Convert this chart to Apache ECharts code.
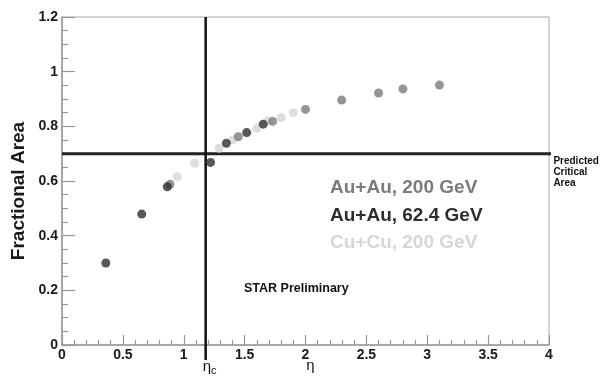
<!DOCTYPE html>
<html>
<head>
<meta charset="utf-8">
<script src="https://cdn.jsdelivr.net/npm/echarts@6/dist/echarts.min.js"></script>
<style>
  html, body { margin: 0; padding: 0; background: #fff; }
  #chart { width: 604px; height: 376px; }
</style>
</head>
<body>
<div id="chart"></div>
<script>
// data: [eta, fractional area]
var auAu200 = [[0.887, 0.588], [1.448, 0.762], [1.73, 0.818], [2.0, 0.862], [2.297, 0.896], [2.60, 0.922], [2.80, 0.937], [3.10, 0.951]];
var auAu62 = [[0.36, 0.30], [0.655, 0.479], [0.865, 0.579], [1.22, 0.668], [1.35, 0.738], [1.517, 0.777], [1.653, 0.808]];
var cuCu200 = [[0.947, 0.616], [1.09, 0.665], [1.29, 0.72], [1.40, 0.75], [1.60, 0.793], [1.69, 0.82], [1.80, 0.832], [1.90, 0.85]];

var seriesNames = ['Au+Au, 200 GeV', 'Au+Au, 62.4 GeV', 'Cu+Cu, 200 GeV'];
var seriesColors = ['#7b7b7b', '#2e2e2e', '#d6d6d6'];

var criticalArea = 0.7;
var etaC = 1.18;
var hLineEnd = 4.11;
var vLineBottom = -0.055;

var font = 'Liberation Sans, Arial, sans-serif';

var chart = echarts.init(document.getElementById('chart'));

var option = {
  backgroundColor: '#fff',
  animation: false,
  textStyle: { fontFamily: font },
  grid: {
    left: 62, right: 55, top: 17, bottom: 31,
    outerBoundsMode: 'none',
    containLabel: false,
    show: true, borderColor: '#a8a8a8', borderWidth: 1
  },
  legend: {
    orient: 'vertical',
    left: 325, top: 178,
    padding: 0,
    icon: 'none',
    itemWidth: 0, itemHeight: 20, itemGap: 8,
    selectedMode: false,
    textStyle: { fontSize: 19, fontWeight: 'bold', fontFamily: font },
    data: seriesNames.map(function (n, i) {
      return { name: n, textStyle: { color: seriesColors[i] } };
    })
  },
  graphic: [{
    type: 'text',
    left: 244, top: 282,
    style: { text: 'STAR Preliminary', font: 'bold 12.5px ' + font, fill: '#111' }
  }],
  xAxis: {
    type: 'value',
    min: 0, max: 4, interval: 0.5,
    name: 'η',
    nameLocation: 'middle',
    nameGap: 13,
    nameMoveOverlap: false,
    nameTextStyle: { fontSize: 15, color: '#111', fontFamily: font, padding: [0, 0, 0, 10] },
    splitLine: { show: false },
    axisLine: { lineStyle: { color: '#999', width: 1.5 } },
    axisTick: { inside: true, length: 10, lineStyle: { color: '#999', width: 1.2 } },
    minorTick: { show: true, splitNumber: 5, length: 5, lineStyle: { color: '#999', width: 1.2 } },
    axisLabel: { margin: 3, fontSize: 14, fontWeight: 'bold', color: '#1a1a1a' }
  },
  yAxis: {
    type: 'value',
    min: 0, max: 1.2, interval: 0.2,
    name: 'Fractional Area',
    nameLocation: 'middle',
    nameGap: 34,
    nameMoveOverlap: false,
    nameTextStyle: { fontSize: 19, fontWeight: 'bold', color: '#1a1a1a', fontFamily: font, padding: [0, 20, 0, 0] },
    splitLine: { show: false },
    axisLine: { lineStyle: { color: '#999', width: 1.5 } },
    axisTick: { inside: true, length: 13, lineStyle: { color: '#999', width: 1.2 } },
    minorTick: { show: true, splitNumber: 4, length: 6, lineStyle: { color: '#999', width: 1.2 } },
    axisLabel: { margin: 4, fontSize: 14, fontWeight: 'bold', color: '#1a1a1a' }
  },
  series: [
    {
      name: 'critical',
      type: 'line',
      clip: false,
      z: 1,
      symbol: 'circle', symbolSize: 0, showSymbol: true,
      lineStyle: { color: '#222', width: 3 },
      silent: true,
      data: [
        [0, criticalArea],
        {
          value: [hLineEnd, criticalArea],
          label: {
            show: true, position: 'bottom', align: 'left', offset: [-9, 0], distance: 2,
            formatter: 'Predicted\nCritical\nArea',
            fontSize: 10, fontWeight: 'bold', lineHeight: 11, color: '#111', fontFamily: font
          }
        }
      ]
    },
    {
      name: 'etac',
      type: 'line',
      clip: false,
      z: 1,
      symbol: 'circle', symbolSize: 0, showSymbol: true,
      lineStyle: { color: '#111', width: 2.5 },
      silent: true,
      data: [
        [etaC, 1.2],
        {
          value: [etaC, vLineBottom],
          label: {
            show: true, position: 'bottom', distance: 0, offset: [4, -2],
            formatter: 'η{c|c}',
            fontSize: 15, color: '#111', fontFamily: font,
            rich: { c: { fontSize: 11, padding: [7, 0, 0, 0], color: '#111' } }
          }
        }
      ]
    },
    {
      name: seriesNames[2], type: 'scatter', z: 3,
      symbolSize: 9, itemStyle: { color: seriesColors[2] }, data: cuCu200
    },
    {
      name: seriesNames[0], type: 'scatter', z: 3,
      symbolSize: 9, itemStyle: { color: seriesColors[0] }, data: auAu200
    },
    {
      name: seriesNames[1], type: 'scatter', z: 3,
      symbolSize: 9, itemStyle: { color: seriesColors[1] }, data: auAu62
    }
  ]
};

chart.setOption(option);
</script>
</body>
</html>
